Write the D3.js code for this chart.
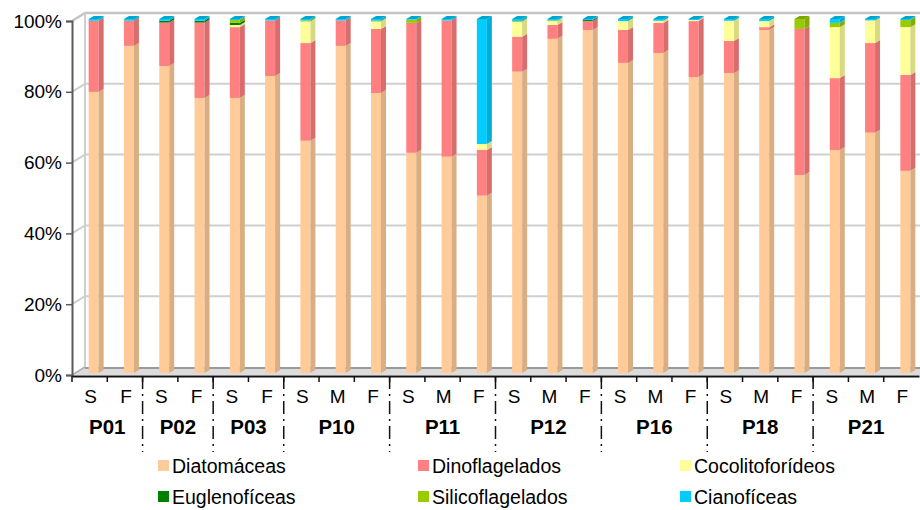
<!DOCTYPE html>
<html>
<head>
<meta charset="utf-8">
<script src="https://cdn.jsdelivr.net/npm/d3@7.9.0/dist/d3.min.js"></script>
<style>
  html, body { margin: 0; padding: 0; background: #fff; }
  svg { display: block; font-family: 'Liberation Sans', Arial, sans-serif; }
</style>
</head>
<body>
<div id="chart"></div>
<script>
const groupNames = ['P01', 'P02', 'P03', 'P10', 'P11', 'P12', 'P16', 'P18', 'P21'];
const groupSamples = [
  ['S', 'F'], ['S', 'F'], ['S', 'F'],
  ['S', 'M', 'F'], ['S', 'M', 'F'], ['S', 'M', 'F'],
  ['S', 'M', 'F'], ['S', 'M', 'F'], ['S', 'M', 'F'],
];

const seriesNames = ['Diatomáceas', 'Dinoflagelados', 'Cocolitoforídeos', 'Euglenofíceas', 'Silicoflagelados', 'Cianofíceas'];
const seriesColors = ['#FFCC99', '#FF8080', '#FFFF99', '#008000', '#99CC00', '#00CCFF'];

// percentages per sample, in category order
const diatomaceas = [79.4, 92.4, 86.7, 77.7, 77.7, 83.9, 65.6, 92.4, 79.1, 62.2, 61.1, 50.1, 85.3, 94.4, 96.9, 87.6, 90.4, 83.6, 84.7, 96.9, 55.9, 63.0, 67.9, 57.1];
const dinoflagelados = [20.1, 7.1, 12.3, 21.3, 20.0, 15.7, 27.6, 7.2, 18.1, 36.7, 38.5, 12.9, 9.9, 3.9, 2.5, 9.3, 8.5, 15.8, 9.1, 0.8, 41.3, 20.3, 25.3, 27.1];
const cocolitoforideos = [0, 0, 0, 0, 0.6, 0, 6.1, 0, 2.1, 0, 0, 1.7, 4.2, 1.1, 0, 2.5, 0.6, 0.3, 5.7, 1.7, 0, 14.4, 6.4, 13.5];
const euglenoficeas = [0, 0, 0.5, 0.5, 0.6, 0, 0, 0, 0, 0, 0, 0, 0, 0, 0.3, 0, 0, 0, 0, 0, 0, 0, 0, 0];
const silicoflagelados = [0, 0, 0, 0, 0.8, 0, 0.3, 0, 0.2, 0.9, 0, 0, 0.2, 0.2, 0, 0, 0, 0, 0, 0, 2.8, 1.2, 0, 2.0];
const cianoficeas = [0.5, 0.5, 0.5, 0.5, 0.3, 0.4, 0.4, 0.4, 0.5, 0.2, 0.4, 35.3, 0.6, 0.4, 0.3, 0.6, 0.5, 0.3, 0.5, 0.6, 0, 1.1, 0.4, 0.3];

const yTicks = [0, 20, 40, 60, 80, 100];

const width = 920;
const height = 510;
const depth = { dx: 13, dy: -8 };
const bar = { front: 10, dx: 5, dy: -3 };

const categories = groupSamples.flatMap((samples, g) =>
  samples.map((s, j) => ({ id: `${groupNames[g]}-${j}`, label: s, group: g })),
);
const seriesValues = [diatomaceas, dinoflagelados, cocolitoforideos, euglenoficeas, silicoflagelados, cianoficeas];

const table = categories.map((c, i) => {
  const row = { id: c.id };
  const total = d3.sum(seriesValues, (v) => v[i]);
  seriesNames.forEach((name, k) => { row[name] = (seriesValues[k][i] / total) * 100; });
  return row;
});
const stacked = d3.stack().keys(seriesNames)(table);

const x = d3.scaleBand().domain(categories.map((c) => c.id)).range([72, 919]).padding(0);
const yFront = d3.scaleLinear().domain([0, 100]).range([375, 21]);
const yBar = d3.scaleLinear().domain([0, 100]).range([373, 19]);

const svg = d3.select('#chart').append('svg').attr('width', width).attr('height', height);

// floor
const floor = svg.append('g').attr('class', 'floor');
floor.append('path')
  .attr('d', `M${x.range()[0]},${yFront(0)} L${x.range()[0] + depth.dx},${yFront(0) + depth.dy} L${width},${yFront(0) + depth.dy} L${width},${yFront(0)} Z`)
  .attr('fill', '#dcdcdc');
floor.append('line')
  .attr('x1', x.range()[0] + depth.dx).attr('x2', width)
  .attr('y1', yFront(0) + depth.dy + 1).attr('y2', yFront(0) + depth.dy + 1)
  .attr('stroke', '#9a9a9a').attr('stroke-width', 2);

// back wall gridlines
const grid = svg.append('g').attr('class', 'gridlines');
grid.selectAll('path')
  .data(yTicks.filter((d) => d > 0))
  .join('path')
  .attr('d', (d) => `M${x.range()[0]},${yFront(d)} L${x.range()[0] + depth.dx},${yFront(d) + depth.dy} L${width},${yFront(d) + depth.dy}`)
  .attr('fill', 'none')
  .attr('stroke', (d) => (d === 100 ? '#c4c4c4' : '#cfcfcf'))
  .attr('stroke-width', (d) => (d === 100 ? 2.5 : 2));
grid.append('line')
  .attr('x1', x.range()[0] + depth.dx).attr('x2', x.range()[0] + depth.dx)
  .attr('y1', yFront(100) + depth.dy).attr('y2', yFront(0) + depth.dy)
  .attr('stroke', '#cfcfcf').attr('stroke-width', 2);
grid.append('line')
  .attr('x1', x.range()[0]).attr('x2', x.range()[0] + depth.dx)
  .attr('y1', yFront(0)).attr('y2', yFront(0) + depth.dy)
  .attr('stroke', '#b0b0b0').attr('stroke-width', 1.5);

// bars
const bars = svg.append('g').attr('class', 'bars');
const barLeft = (id) => x(id) + x.bandwidth() / 2 - 1;

stacked.forEach((layer, k) => {
  const color = d3.color(seriesColors[k]);
  const side = color.darker(0.45).formatHex();
  const g = bars.append('g').attr('class', 'series');
  const segs = layer.map((d, i) => ({ id: categories[i].id, y0: d[0], y1: d[1] }))
    .filter((d) => d.y1 - d.y0 > 0.001);

  g.selectAll('rect')
    .data(segs)
    .join('rect')
    .attr('x', (d) => barLeft(d.id))
    .attr('y', (d) => yBar(d.y1))
    .attr('width', bar.front)
    .attr('height', (d) => yBar(d.y0) - yBar(d.y1))
    .attr('fill', color.formatHex());

  g.selectAll('path.side')
    .data(segs)
    .join('path')
    .attr('class', 'side')
    .attr('d', (d) => {
      const xr = barLeft(d.id) + bar.front;
      return `M${xr},${yBar(d.y0)} L${xr + bar.dx},${yBar(d.y0) + bar.dy} L${xr + bar.dx},${yBar(d.y1) + bar.dy} L${xr},${yBar(d.y1)} Z`;
    })
    .attr('fill', side);
});

// top faces, coloured by the top-most segment
const topLayer = categories.map((c, i) => {
  let k = seriesNames.length - 1;
  while (k > 0 && table[i][seriesNames[k]] <= 0.001) k -= 1;
  return { id: c.id, k };
});
bars.append('g').selectAll('path')
  .data(topLayer)
  .join('path')
  .attr('d', (d) => {
    const xl = barLeft(d.id);
    const yt = yBar(100);
    return `M${xl},${yt} L${xl + bar.dx},${yt + bar.dy} L${xl + bar.front + bar.dx},${yt + bar.dy} L${xl + bar.front},${yt} Z`;
  })
  .attr('fill', (d) => d3.color(seriesColors[d.k]).darker(0.6).formatHex());

// y axis
const yAxis = svg.append('g')
  .attr('transform', `translate(${x.range()[0]},0)`)
  .call(d3.axisLeft(yFront).tickValues(yTicks).tickFormat((d) => `${d}%`).tickSize(6).tickPadding(4));
yAxis.select('.domain').attr('stroke', '#5a5a5a').attr('stroke-width', 2);
yAxis.selectAll('.tick line').attr('stroke', '#5a5a5a').attr('stroke-width', 1.5);
yAxis.selectAll('.tick text').attr('font-size', 19).attr('fill', '#000');

// x axis
const xAxis = svg.append('g')
  .attr('transform', `translate(0,${yFront(0) + 1})`)
  .call(d3.axisBottom(x).tickFormat((id) => categories.find((c) => c.id === id).label).tickSize(0).tickPadding(14));
xAxis.select('.domain').attr('stroke', '#111').attr('stroke-width', 2);
xAxis.selectAll('.tick text').attr('font-size', 19).attr('fill', '#000').attr('dx', 1);

const boundaries = d3.range(0, categories.length);
xAxis.append('g').selectAll('line')
  .data(boundaries)
  .join('line')
  .attr('x1', (i) => x(categories[i].id)).attr('x2', (i) => x(categories[i].id))
  .attr('y1', 0).attr('y2', 6)
  .attr('stroke', '#111').attr('stroke-width', 1.5);

const groupStarts = [];
let acc = 0;
groupSamples.forEach((s) => { groupStarts.push(acc); acc += s.length; });

xAxis.append('g').selectAll('line')
  .data(groupStarts.slice(1))
  .join('line')
  .attr('x1', (i) => x(categories[i].id)).attr('x2', (i) => x(categories[i].id))
  .attr('y1', 0).attr('y2', 76)
  .attr('stroke', '#111').attr('stroke-width', 1.5)
  .attr('stroke-dasharray', '13,5,2,5');

xAxis.append('g').selectAll('text')
  .data(groupNames)
  .join('text')
  .attr('x', (d, g) => {
    const first = categories[groupStarts[g]].id;
    const last = categories[groupStarts[g] + groupSamples[g].length - 1].id;
    return (x(first) + x(last) + x.bandwidth()) / 2;
  })
  .attr('y', 58)
  .attr('text-anchor', 'middle')
  .attr('font-size', 20.5)
  .attr('font-weight', 'bold')
  .attr('fill', '#000')
  .text((d) => d);

// legend
const legendPos = [[158, 466], [418, 466], [680, 466], [158, 497], [418, 497], [680, 497]];
const legend = svg.append('g').attr('class', 'legend');
const items = legend.selectAll('g')
  .data(seriesNames)
  .join('g')
  .attr('transform', (d, k) => `translate(${legendPos[k][0]},${legendPos[k][1]})`);
items.append('rect')
  .attr('x', 0).attr('y', -6).attr('width', 11).attr('height', 11)
  .attr('fill', (d, k) => seriesColors[k]);
items.append('text')
  .attr('x', 14).attr('y', 0).attr('dy', '0.35em')
  .attr('font-size', 19.5)
  .attr('fill', '#000')
  .text((d) => d);
</script>
</body>
</html>
